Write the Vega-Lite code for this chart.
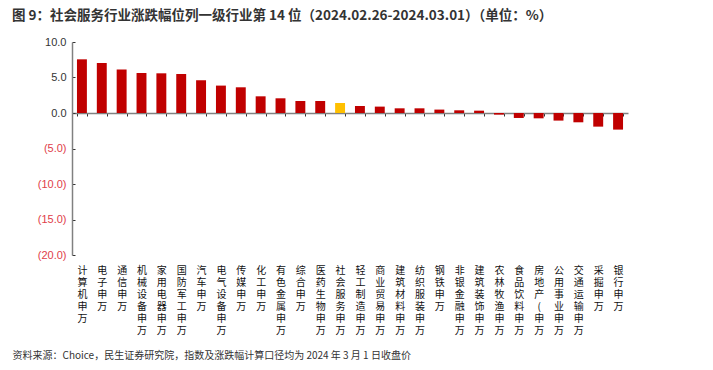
{
  "$schema": "https://vega.github.io/schema/vega-lite/v6.json",
  "width": 556,
  "height": 213,
  "autosize": "none",
  "padding": {"left": 72, "top": 42, "right": 85, "bottom": 115},
  "background": "white",
  "title": {
    "text": "图 9：社会服务行业涨跌幅位列一级行业第 14 位（2024.02.26-2024.03.01）（单位：%）",
    "anchor": "start",
    "frame": "group",
    "dx": -60,
    "offset": 14,
    "fontSize": 13.5,
    "font": "Noto Sans CJK SC",
    "fontWeight": "bold",
    "color": "#333333"
  },
  "data": {
    "values": [
      {"industry": "计算机申万", "value": 7.56},
      {"industry": "电子申万", "value": 7.04},
      {"industry": "通信申万", "value": 6.11},
      {"industry": "机械设备申万", "value": 5.63},
      {"industry": "家用电器申万", "value": 5.59},
      {"industry": "国防军工申万", "value": 5.49},
      {"industry": "汽车申万", "value": 4.6},
      {"industry": "电气设备申万", "value": 3.86},
      {"industry": "传媒申万", "value": 3.62},
      {"industry": "化工申万", "value": 2.35},
      {"industry": "有色金属申万", "value": 2.07},
      {"industry": "综合申万", "value": 1.69},
      {"industry": "医药生物申万", "value": 1.69},
      {"industry": "社会服务申万", "value": 1.41},
      {"industry": "轻工制造申万", "value": 0.99},
      {"industry": "商业贸易申万", "value": 0.9},
      {"industry": "建筑材料申万", "value": 0.66},
      {"industry": "纺织服装申万", "value": 0.66},
      {"industry": "钢铁申万", "value": 0.48},
      {"industry": "非银金融申万", "value": 0.38},
      {"industry": "建筑装饰申万", "value": 0.33},
      {"industry": "农林牧渔申万", "value": -0.23},
      {"industry": "食品饮料申万", "value": -0.7},
      {"industry": "房地产(申万", "value": -0.75},
      {"industry": "公用事业申万", "value": -1.07},
      {"industry": "交通运输申万", "value": -1.31},
      {"industry": "采掘申万", "value": -1.92},
      {"industry": "银行申万", "value": -2.34}
    ]
  },
  "mark": {"type": "bar"},
  "encoding": {
    "x": {
      "field": "industry",
      "type": "nominal",
      "sort": null,
      "scale": {"paddingInner": 0.5, "paddingOuter": 0.25},
      "axis": {
        "orient": "bottom",
        "offset": -142,
        "domain": true,
        "domainColor": "#808080",
        "domainWidth": 1.5,
        "ticks": true,
        "tickBand": "extent",
        "tickSize": 3,
        "tickColor": "#333333",
        "labelPadding": 149,
        "labelBaseline": "top",
        "labelAngle": 0,
        "labelExpr": "split(datum.label, '')",
        "labelLineHeight": 12,
        "labelFont": "Noto Sans CJK SC",
        "labelFontSize": 10,
        "labelColor": "#111111",
        "title": "资料来源：Choice，民生证券研究院，指数及涨跌幅计算口径均为 2024 年 3 月 1 日收盘价",
        "titleAnchor": "start",
        "titleAlign": "left",
        "titleX": -60,
        "titleY": 242,
        "titleBaseline": "middle",
        "titleFont": "Noto Sans CJK SC",
        "titleFontSize": 10,
        "titleFontWeight": "normal",
        "titleColor": "#333333"
      }
    },
    "y": {
      "field": "value",
      "type": "quantitative",
      "scale": {"domain": [-20, 10], "nice": false},
      "axis": {
        "values": [-20, -15, -10, -5, 0, 5, 10],
        "grid": false,
        "title": null,
        "domainColor": "#808080",
        "domainWidth": 1.5,
        "tickColor": "#333333",
        "tickSize": -3,
        "labelPadding": 9,
        "labelFont": "Liberation Sans",
        "labelFontSize": 11,
        "labelExpr": "datum.value < 0 ? '(' + format(-datum.value, '.1f') + ')' : format(datum.value, '.1f')",
        "labelColor": {"condition": {"test": "datum.value < 0", "value": "#E0404A"}, "value": "#333333"}
      }
    },
    "color": {
      "condition": {"test": "datum.industry === '社会服务申万'", "value": "#FFC000"},
      "value": "#C00000"
    }
  },
  "config": {"view": {"stroke": null}}
}
